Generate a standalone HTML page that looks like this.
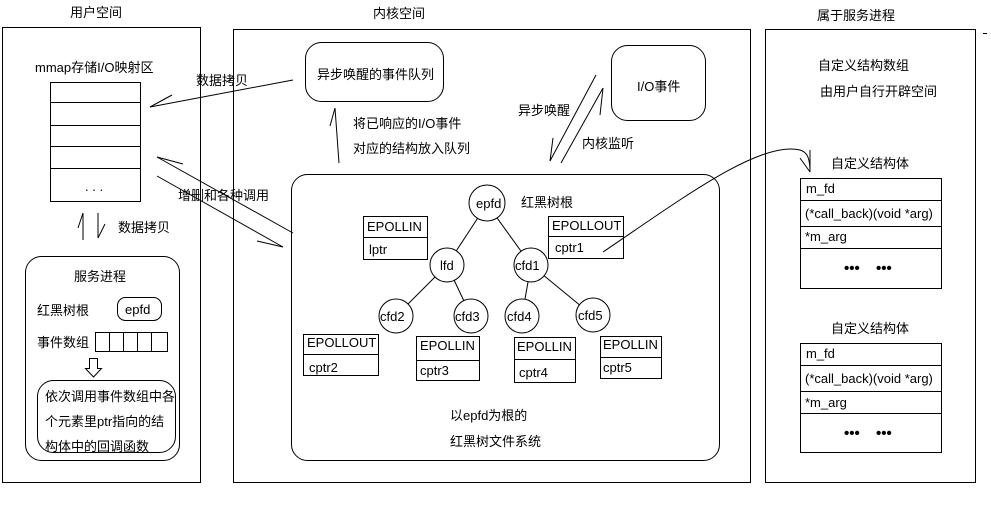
<!DOCTYPE html>
<html><head><meta charset="utf-8"><style>
html,body{margin:0;padding:0;background:#fff;}
svg{display:block;}
text{font-family:"Liberation Sans","Noto Sans CJK SC",sans-serif;font-size:13px;fill:#000;}
</style></head><body>
<svg width="991" height="512" viewBox="0 0 991 512" xmlns="http://www.w3.org/2000/svg">
<g fill="none" stroke="#000" stroke-width="1">
<rect x="2.5" y="27.5" width="198" height="455"/>
<rect x="50.5" y="82.5" width="90" height="119"/>
<line x1="50" y1="102.5" x2="140" y2="102.5"/>
<line x1="50" y1="125.5" x2="140" y2="125.5"/>
<line x1="50" y1="146.5" x2="140" y2="146.5"/>
<line x1="50" y1="168.5" x2="140" y2="168.5"/>
<rect x="25.5" y="256.5" width="154" height="204" rx="16"/>
<rect x="117.5" y="297.5" width="44" height="23" rx="8"/>
<rect x="95.5" y="332.5" width="72" height="19"/>
<line x1="109.5" y1="332" x2="109.5" y2="351"/>
<line x1="123.5" y1="332" x2="123.5" y2="351"/>
<line x1="137.5" y1="332" x2="137.5" y2="351"/>
<line x1="151.5" y1="332" x2="151.5" y2="351"/>
<path d="M89.5 358.5 H97.5 V368.5 H101.5 L93.5 377 L85.5 368.5 H89.5 Z"/>
<rect x="37.5" y="380.5" width="138" height="72" rx="16"/>
<line x1="83" y1="213" x2="83" y2="240"/><line x1="83" y1="213" x2="78" y2="228"/>
<line x1="98" y1="213" x2="98" y2="238"/><line x1="98" y1="238" x2="105" y2="224"/>
<line x1="293" y1="80" x2="150" y2="107"/><line x1="150" y1="107" x2="172" y2="95"/>
<line x1="157" y1="157" x2="293" y2="233"/><line x1="157" y1="157" x2="183" y2="164"/>
<line x1="157" y1="176" x2="283" y2="247"/><line x1="257" y1="241" x2="283" y2="247"/>
<rect x="233.5" y="29.5" width="517" height="453"/>
<rect x="305.5" y="42.5" width="138" height="59" rx="16"/>
<line x1="339" y1="163" x2="335" y2="108"/><line x1="335" y1="108" x2="330" y2="126"/>
<rect x="611.5" y="45.5" width="94" height="75" rx="16"/>
<line x1="596" y1="75" x2="550" y2="161"/><line x1="553" y1="138" x2="550" y2="161"/>
<line x1="603" y1="88" x2="561" y2="163"/><line x1="600" y1="115" x2="603" y2="88"/>
<rect x="291.5" y="174.5" width="428" height="286" rx="16"/>
<line x1="487" y1="204" x2="447" y2="265"/>
<line x1="487" y1="204" x2="531" y2="265"/>
<line x1="447" y1="265" x2="396" y2="316"/>
<line x1="447" y1="265" x2="471" y2="316"/>
<line x1="531" y1="265" x2="522" y2="316"/>
<line x1="531" y1="265" x2="593" y2="316"/>
<g fill="#fff">
<circle cx="487" cy="203" r="18"/>
<circle cx="447" cy="265" r="17"/>
<circle cx="531" cy="265" r="17"/>
<circle cx="396" cy="316" r="17"/>
<circle cx="471" cy="316" r="17"/>
<circle cx="522" cy="316" r="17"/>
<circle cx="593" cy="315" r="17"/>
</g>
<rect x="363.5" y="216.5" width="64" height="43"/><line x1="363" y1="237.5" x2="427" y2="237.5"/>
<rect x="548.5" y="216.5" width="75" height="42"/><line x1="548" y1="236.5" x2="623" y2="236.5"/>
<rect x="303.5" y="334.5" width="75" height="41"/><line x1="303" y1="354.5" x2="378" y2="354.5"/>
<rect x="416.5" y="336.5" width="63" height="44"/><line x1="416" y1="360.5" x2="479" y2="360.5"/>
<rect x="514.5" y="337.5" width="61" height="45"/><line x1="514" y1="359.5" x2="575" y2="359.5"/>
<rect x="600.5" y="336.5" width="61" height="42"/><line x1="600" y1="357.5" x2="661" y2="357.5"/>
<path d="M603 252 C 680 200, 760 140, 800 150 C 808 152, 810 160, 810 172"/>
<line x1="810" y1="172" x2="800" y2="158"/><line x1="810" y1="172" x2="810" y2="150"/>
<rect x="765.5" y="29.5" width="210" height="453"/>
<rect x="800.5" y="178.5" width="141" height="110"/>
<line x1="800" y1="200.5" x2="941" y2="200.5"/>
<line x1="800" y1="226.5" x2="941" y2="226.5"/>
<line x1="800" y1="248.5" x2="941" y2="248.5"/>
<rect x="800.5" y="343.5" width="141" height="109"/>
<line x1="800" y1="365.5" x2="941" y2="365.5"/>
<line x1="800" y1="391.5" x2="941" y2="391.5"/>
<line x1="800" y1="413.5" x2="941" y2="413.5"/>
<line x1="983" y1="33.5" x2="987" y2="33.5"/>
</g>
<text x="70" y="17">用户空间</text>
<text x="373" y="18">内核空间</text>
<text x="817" y="20">属于服务进程</text>
<text x="35" y="72">mmap存储I/O映射区</text>
<text x="85" y="191">. . .</text>
<text x="196" y="85">数据拷贝</text>
<text x="178" y="200">增删和各种调用</text>
<text x="118" y="232">数据拷贝</text>
<text x="74" y="281">服务进程</text>
<text x="37" y="315">红黑树根</text>
<text x="125" y="314">epfd</text>
<text x="37" y="347">事件数组</text>
<text x="45" y="401">依次调用事件数组中各</text>
<text x="45" y="426">个元素里ptr指向的结</text>
<text x="45" y="451">构体中的回调函数</text>
<text x="317" y="79">异步唤醒的事件队列</text>
<text x="353" y="128">将已响应的I/O事件</text>
<text x="353" y="153">对应的结构放入队列</text>
<text x="637" y="91">I/O事件</text>
<text x="518" y="115">异步唤醒</text>
<text x="582" y="148">内核监听</text>
<text x="476" y="208">epfd</text>
<text x="521" y="207">红黑树根</text>
<text x="440" y="270">lfd</text>
<text x="515" y="270">cfd1</text>
<text x="380" y="321">cfd2</text>
<text x="455" y="321">cfd3</text>
<text x="507" y="321">cfd4</text>
<text x="578" y="320">cfd5</text>
<text x="367" y="231">EPOLLIN</text><text x="369" y="254">lptr</text>
<text x="552" y="230">EPOLLOUT</text><text x="555" y="252">cptr1</text>
<text x="307" y="347">EPOLLOUT</text><text x="309" y="372">cptr2</text>
<text x="420" y="350">EPOLLIN</text><text x="420" y="375">cptr3</text>
<text x="517" y="351">EPOLLIN</text><text x="519" y="377">cptr4</text>
<text x="603" y="349">EPOLLIN</text><text x="603" y="372">cptr5</text>
<text x="450" y="420">以epfd为根的</text>
<text x="450" y="446">红黑树文件系统</text>
<text x="818" y="70">自定义结构数组</text>
<text x="820" y="96">由用户自行开辟空间</text>
<text x="831" y="168">自定义结构体</text>
<text x="806" y="193">m_fd</text>
<text x="805" y="218">(*call_back)(void *arg)</text>
<text x="805" y="241">*m_arg</text>
<text x="844" y="273" style="font-size:15px;font-weight:bold">•••</text>
<text x="876" y="273" style="font-size:15px;font-weight:bold">•••</text>
<text x="831" y="333">自定义结构体</text>
<text x="806" y="358">m_fd</text>
<text x="805" y="383">(*call_back)(void *arg)</text>
<text x="805" y="407">*m_arg</text>
<text x="844" y="438" style="font-size:15px;font-weight:bold">•••</text>
<text x="876" y="438" style="font-size:15px;font-weight:bold">•••</text>
</svg>
</body></html>
